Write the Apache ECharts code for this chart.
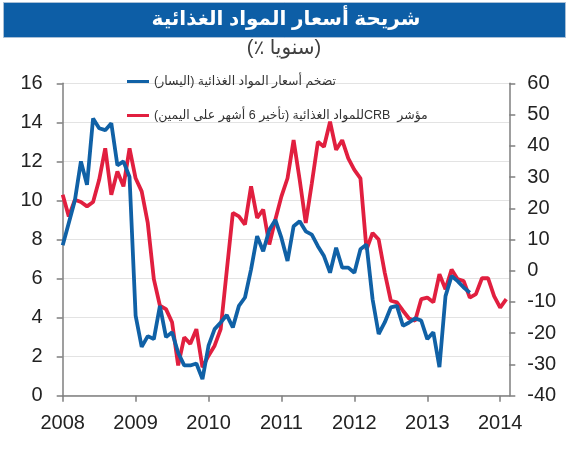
<!DOCTYPE html>
<html>
<head>
<meta charset="utf-8">
<script src="https://cdn.jsdelivr.net/npm/echarts@6/dist/echarts.min.js"></script>
<style>
html,body{margin:0;padding:0;background:#fff;}
#chart{width:569px;height:450px;}
</style>
</head>
<body>
<div id="chart"></div>
<script>
// Monthly data, starting January 2008
var titleText = 'شريحة أسعار المواد الغذائية';
var subtitleWord = 'سنويا';
var percentSign = '\u066A';
var seriesNames = [
  'تضخم أسعار المواد الغذائية (اليسار)',
  'مؤشر  CRBللمواد الغذائية (تأخير 6 أشهر على اليمين)'
];
var yearLabels = ['2008', '2009', '2010', '2011', '2012', '2013', '2014'];

// Food price inflation (left axis, %)
var foodInflation = [
  7.7, 8.85, 10.0, 12.0, 10.8, 14.2, 13.7, 13.6, 13.95, 11.8, 12.0, 11.2,
  4.1, 2.5, 3.05, 2.9, 4.6, 3.0, 3.25, 2.2, 1.55, 1.55, 1.65, 0.85,
  2.56, 3.41, 3.75, 4.13, 3.5, 4.6, 5.03, 6.47, 8.17, 7.4, 8.5, 9.0,
  8.08, 6.9, 8.68, 8.93, 8.42, 8.25, 7.66, 7.15, 6.3, 7.58, 6.56, 6.56,
  6.3, 7.5, 7.75, 4.94, 3.16, 3.75, 4.52, 4.6, 3.58, 3.75, 3.96, 3.85,
  2.9, 3.25, 1.46, 5.1, 6.13, 5.87, 5.54, 5.28
];

// CRB food index, 6-month lead (right axis, %)
var crbFood = [
  24.3, 17.4, 22.7, 22.0, 20.6, 22.0, 29.1, 39.2, 24.3, 31.8, 27.0, 39.2,
  29.6, 25.4, 15.3, -2.7, -11.2, -12.3, -16.5, -30.3, -21.3, -23.4, -18.7, -30.9,
  -27.2, -24.0, -18.7, 0.0, 18.5, 17.4, 14.8, 27.0, 16.9, 19.6, 8.4, 16.4,
  23.8, 29.6, 41.8, 29.1, 15.3, 28.0, 41.3, 39.7, 47.7, 38.7, 41.8, 36.0,
  32.3, 29.6, 6.8, 12.1, 10.0, -0.6, -9.6, -10.1, -12.8, -15.3, -16.0, -9.1,
  -8.6, -10.1, -1.1, -5.9, 0.4, -2.7, -3.3, -8.6, -7.5, -2.4, -2.4, -8.1,
  -11.8, -9.1
];

function toPoints(arr) {
  return arr.map(function (v, i) { return [i, v]; });
}

var FONT = '"Liberation Sans", "DejaVu Sans", Arial, sans-serif';
var RLE = '\u202B', PDF = '\u202C';
var BLUE = '#1061a6', RED = '#e11f3f';
var AXIS = '#7f7f7f';
// Subtitle drawn as separate rich-text tokens in visual order: "(" "٪ " word ")"
var subtitleRich = '{p|(}{p|' + percentSign + ' }{p|' + subtitleWord + '}{p|)}';

var chart = echarts.init(document.getElementById('chart'), null, {renderer: 'canvas'});
chart.setOption({
  animation: false,
  backgroundColor: '#ffffff',
  textStyle: {fontFamily: FONT},
  graphic: [
    {type: 'rect', left: 3, top: 2, shape: {width: 562, height: 35},
     style: {fill: '#0d5ea6', stroke: '#a8bfd6', lineWidth: 1}, z: 0},
    {type: 'text', x: 286, y: 19,
     style: {text: titleText, fill: '#ffffff', font: 'bold 20px ' + FONT,
             textAlign: 'center', textVerticalAlign: 'middle'}, z: 1},
    {type: 'text', x: 284, y: 48,
     style: {text: subtitleRich, fill: '#404040', font: '20px ' + FONT,
             textAlign: 'center', textVerticalAlign: 'middle',
             rich: {p: {fontSize: 20, fontFamily: FONT, fill: '#404040'}}}, z: 1}
  ],
  legend: {
    orient: 'vertical',
    left: 127,
    top: 75,
    padding: 0,
    itemWidth: 22,
    itemHeight: 14,
    itemGap: 21,
    icon: 'path://M0,6 L22,6 L22,9 L0,9 Z',
    textStyle: {fontSize: 12.5, color: '#333', fontFamily: FONT},
    formatter: function (n) { return RLE + n + PDF; },
    data: seriesNames
  },
  grid: {left: 62.7, right: 59.7, top: 83.3, bottom: 54.3, containLabel: false},
  xAxis: {
    type: 'value', min: 0, max: 73.5, interval: 12,
    axisLine: {show: true, lineStyle: {color: AXIS, width: 1.5}},
    axisTick: {show: true, length: 6, lineStyle: {color: AXIS, width: 1.5}},
    axisLabel: {
      margin: 18, fontSize: 20, color: '#222', fontFamily: FONT,
      showMaxLabel: false,
      formatter: function (v) {
        var k = v / 12;
        return (Math.abs(k - Math.round(k)) < 1e-6 && yearLabels[Math.round(k)]) ? yearLabels[Math.round(k)] : '';
      }
    },
    splitLine: {show: false}
  },
  yAxis: [
    {
      type: 'value', min: 0, max: 16, interval: 2, position: 'left',
      axisLine: {show: true, lineStyle: {color: AXIS, width: 1.5}},
      axisTick: {show: true, length: 6, lineStyle: {color: AXIS, width: 1.5}},
      axisLabel: {margin: 20, fontSize: 20, color: '#222', fontFamily: FONT},
      splitLine: {show: true, lineStyle: {color: '#e3e3e3', width: 1}}
    },
    {
      type: 'value', min: -40, max: 60, interval: 10, position: 'right',
      axisLine: {show: true, lineStyle: {color: AXIS, width: 1.5}},
      axisTick: {show: true, length: 6, lineStyle: {color: AXIS, width: 1.5}},
      axisLabel: {margin: 18, fontSize: 20, color: '#222', fontFamily: FONT},
      splitLine: {show: false}
    }
  ],
  series: [
    {
      name: seriesNames[0], type: 'line', yAxisIndex: 0,
      data: toPoints(foodInflation), symbol: 'none', z: 3,
      color: BLUE, lineStyle: {color: BLUE, width: 3.8}
    },
    {
      name: seriesNames[1], type: 'line', yAxisIndex: 1,
      data: toPoints(crbFood), symbol: 'none', z: 2,
      color: RED, lineStyle: {color: RED, width: 3.8}
    }
  ]
});
</script>
</body>
</html>
